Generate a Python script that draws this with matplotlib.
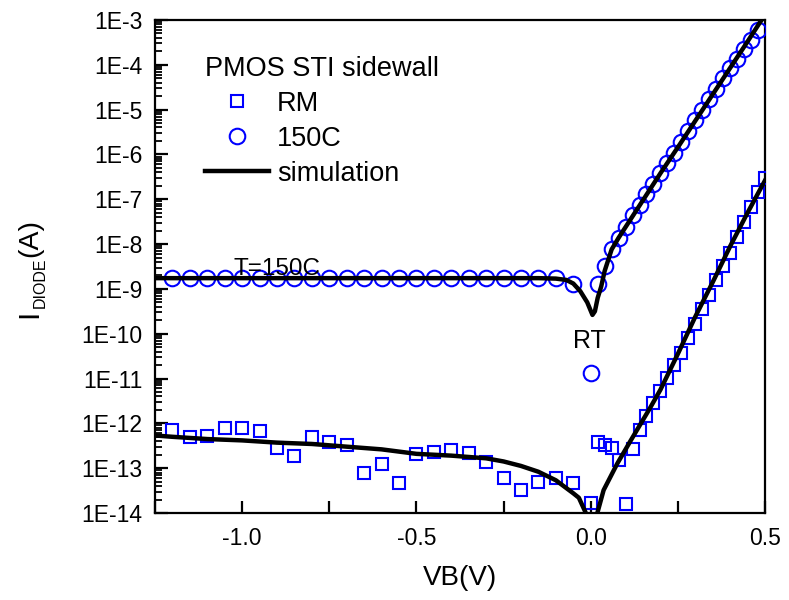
import numpy as np
import matplotlib
matplotlib.use("Agg")
import matplotlib.pyplot as plt
from matplotlib.ticker import FixedLocator, LogLocator, NullFormatter, FuncFormatter

plt.rcParams['font.family'] = ['Liberation Sans', 'DejaVu Sans']
plt.rcParams['mathtext.default'] = 'regular'

# ---- data (log10 of current) ----
rm_v = [-1.20, -1.15, -1.10, -1.05, -1.00, -0.95, -0.90, -0.85, -0.80, -0.75,
        -0.70, -0.65, -0.60, -0.55, -0.50, -0.45, -0.40, -0.35, -0.30, -0.25,
        -0.20, -0.15, -0.10, -0.05, 0.00,
        0.02, 0.04, 0.06, 0.08, 0.10,
        0.12, 0.14, 0.16, 0.18, 0.20, 0.22, 0.24, 0.26, 0.28, 0.30,
        0.32, 0.34, 0.36, 0.38, 0.40, 0.42, 0.44, 0.46, 0.48, 0.50]
rm_log = [-12.14, -12.30, -12.28, -12.10, -12.10, -12.16, -12.56, -12.73, -12.30, -12.41,
          -12.49, -13.10, -12.90, -13.33, -12.69, -12.64, -12.59, -12.67, -12.86, -13.21,
          -13.49, -13.30, -13.21, -13.32, -13.78,
          -12.42, -12.49, -12.56, -12.81, -13.80,
          -12.58, -12.14, -11.84, -11.55, -11.27, -10.98, -10.70, -10.42, -10.10, -9.78,
          -9.45, -9.14, -8.81, -8.49, -8.19, -7.84, -7.50, -7.18, -6.84, -6.53]

hot_v = [-1.20, -1.15, -1.10, -1.05, -1.00, -0.95, -0.90, -0.85, -0.80, -0.75,
         -0.70, -0.65, -0.60, -0.55, -0.50, -0.45, -0.40, -0.35, -0.30, -0.25,
         -0.20, -0.15, -0.10, -0.05, 0.00,
         0.02, 0.04, 0.06, 0.08, 0.10, 0.12, 0.14, 0.16, 0.18, 0.20,
         0.22, 0.24, 0.26, 0.28, 0.30, 0.32, 0.34, 0.36, 0.38, 0.40,
         0.42, 0.44, 0.46, 0.48]
hot_log = [-8.76] * 22 + [-8.76, -8.89, -10.87,
           -8.89, -8.49, -8.12, -7.86, -7.62, -7.36, -7.12, -6.88, -6.65, -6.42,
           -6.19, -5.97, -5.73, -5.48, -5.23, -5.00, -4.76, -4.53, -4.30, -4.08,
           -3.86, -3.64, -3.44, -3.23]

sim_hot_v = [-1.25, -0.15, -0.10, -0.07, -0.05, -0.03, -0.01, 0.005, 0.012, 0.02,
             0.03, 0.04, 0.06, 0.08, 0.10, 0.15, 0.20, 0.25, 0.30, 0.35,
             0.40, 0.45, 0.50]
sim_hot_log = [-8.76, -8.76, -8.77, -8.80, -8.88, -9.05, -9.30, -9.58, -9.50, -9.20,
               -8.95, -8.60, -8.12, -7.86, -7.62, -7.02, -6.42, -5.84, -5.25, -4.66,
               -4.07, -3.48, -2.88]

sim_rt_v = [-1.25, -1.20, -1.10, -1.00, -0.90, -0.80, -0.70, -0.60, -0.50, -0.40,
            -0.30, -0.25, -0.20, -0.15, -0.10, -0.05, -0.034, -0.014, 0.00,
            0.019, 0.037, 0.076, 0.115, 0.17, 0.20, 0.25, 0.30, 0.35, 0.40,
            0.45, 0.50]
sim_rt_log = [-12.27, -12.30, -12.35, -12.38, -12.43, -12.46, -12.52, -12.58, -12.68, -12.72,
              -12.78, -12.85, -12.95, -13.08, -13.27, -13.56, -13.66, -14.00, -14.5,
              -14.00, -13.49, -12.90, -12.38, -11.66, -11.25, -10.45, -9.62, -8.85, -8.05,
              -7.30, -6.58]

rm = 10.0 ** np.array(rm_log)
hot = 10.0 ** np.array(hot_log)
sim_hot = 10.0 ** np.array(sim_hot_log)
sim_rt = 10.0 ** np.array(sim_rt_log)

W, H = 789, 600
fig = plt.figure(figsize=(W / 100, H / 100), dpi=100)
ax = fig.add_axes([155/W, 1 - 513/H, 610/W, 493/H])

blue = '#0000FF'
h_rm, = ax.plot(rm_v, rm, ls='none', marker='s', ms=8.2, mfc='none', mec=blue, mew=1.5,
                label='RM', zorder=3)
h_hot, = ax.plot(hot_v, hot, ls='none', marker='o', ms=11.2, mfc='none', mec=blue, mew=1.5,
                 label='150C', zorder=3)
h_sim, = ax.plot(sim_hot_v, sim_hot, color='black', lw=3.2, label='simulation', zorder=4)
ax.plot(sim_rt_v, sim_rt, color='black', lw=3.2, zorder=4)

ax.set_yscale('log')
ax.set_xlim(-1.25, 0.5)
ax.set_ylim(1e-14, 1e-3)

ax.xaxis.set_major_locator(FixedLocator([-1.25, -1.0, -0.75, -0.5, -0.25, 0.0, 0.25, 0.5]))
def xfmt(v, pos):
    if abs(v * 2 - round(v * 2)) < 1e-6:
        return f"{v:.1f}"
    return ""
ax.xaxis.set_major_formatter(FuncFormatter(xfmt))

ax.yaxis.set_major_locator(LogLocator(base=10, numticks=20))
ax.yaxis.set_minor_locator(LogLocator(base=10, subs=np.arange(2, 10), numticks=20))
ax.yaxis.set_minor_formatter(NullFormatter())
ax.yaxis.set_major_formatter(FuncFormatter(lambda v, p: f"1E{int(round(np.log10(v)))}"))

ax.tick_params(axis='both', which='major', direction='in', labelsize=16.5,
               width=1.6, length=9, pad=9)
ax.tick_params(axis='x', which='major', pad=10)
ax.tick_params(axis='y', which='minor', direction='in', width=1.3, length=5)
ax.tick_params(axis='y', which='both', right=False)
ax.tick_params(axis='x', which='both', top=False)
for s in ax.spines.values():
    s.set_linewidth(1.6)

ax.set_xlabel('VB(V)', fontsize=20, labelpad=11)

# y label built from pieces: I, subscript DIODE, (A)
ylab_kw = dict(rotation=90, rotation_mode='anchor', ha='left', va='baseline')
fig.text(37 / W, 1 - 318 / H, 'I', fontsize=21.5, **ylab_kw)
fig.text(45 / W, 1 - 308 / H, 'DIODE', fontsize=11.5, **ylab_kw)
fig.text(37 / W, 1 - 257 / H, '(A)', fontsize=20.5, **ylab_kw)

ax.text(-1.025, 2.0e-9, 'T=150C', fontsize=17.5, ha='left', va='baseline', zorder=5)
ax.text(-0.005, 7e-11, 'RT', fontsize=18, ha='center', va='center', zorder=5)

leg = ax.legend(handles=[h_rm, h_hot, h_sim], title='PMOS STI sidewall',
                loc='upper left', bbox_to_anchor=(0.082, 0.927), frameon=False,
                fontsize=19.5, title_fontsize=19.5, alignment='left', numpoints=1,
                handlelength=2.35, handletextpad=0.3, labelspacing=0.33,
                borderpad=0, borderaxespad=0)

fig.savefig('out.png', dpi=100)
